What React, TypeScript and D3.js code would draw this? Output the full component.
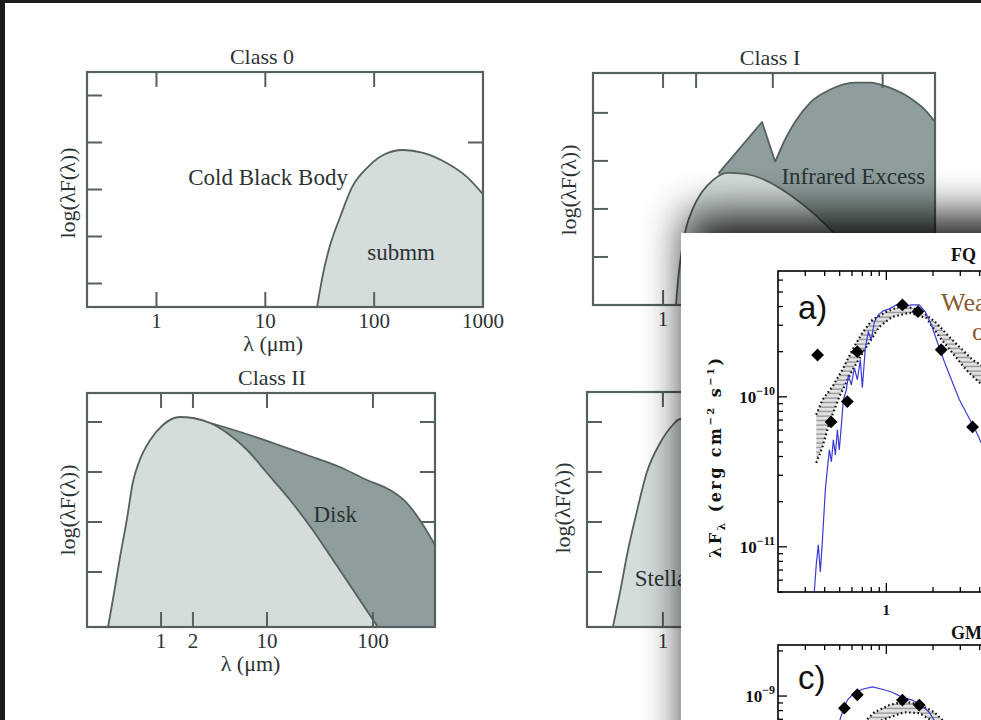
import React from "react";
import * as d3 from "d3";

type Pt = [number, number];

// ---- schematic SED classes: [wavelength (μm), log(λF) in arbitrary units] ----
const class0Cold: Pt[] = [
  [29.9, 0], [34, 0.72], [39, 1.28], [48.6, 1.91], [62.7, 2.55], [86, 2.96],
  [120, 3.23], [184, 3.34], [282, 3.28], [468, 3.06], [711, 2.77], [1000, 2.4],
];

const class1Star: Pt[] = [
  [1.31, 0], [1.37, 0.52], [1.46, 1.04], [1.62, 1.6], [1.88, 2.02], [2.26, 2.35],
  [2.85, 2.6], [3.83, 2.75], [5.58, 2.73], [8.5, 2.6], [14.4, 2.29], [24.2, 1.88],
  [41, 1.35], [62, 0.83], [91, 0.31], [105, 0],
];
const class1Silicate: Pt[] = [[3.2, 2.74], [7.97, 3.81], [10.5, 2.98]];
const class1Dust: Pt[] = [
  [10.5, 2.98], [12.9, 3.44], [15.9, 3.81], [21.8, 4.21], [33, 4.48], [56, 4.63],
  [77, 4.63], [117, 4.52], [178, 4.31], [243, 4.06], [300, 3.81],
];

const class2Star: Pt[] = [
  [0.316, -0.1], [0.36, 0.58], [0.41, 1.3], [0.48, 2.1], [0.54, 2.78], [0.63, 3.24],
  [0.79, 3.64], [1.04, 3.94], [1.51, 4.1], [2.0, 4.08], [2.9, 3.98], [4.2, 3.78],
  [6.5, 3.44], [10, 2.98], [16.5, 2.44], [27, 1.84], [42, 1.24], [65, 0.64], [111, -0.1],
];
const class2Disk: Pt[] = [
  [2.0, 4.08], [3.4, 3.94], [5.6, 3.8], [11.4, 3.58], [23.8, 3.34], [48.8, 3.1],
  [87.7, 2.84], [144.5, 2.64], [209, 2.38], [277, 2.04], [385, 1.54],
];

const class3Star: Pt[] = [
  [0.335, -0.1], [0.39, 0.58], [0.46, 1.38], [0.57, 2.24], [0.7, 2.98], [0.94, 3.58],
  [1.24, 3.94], [1.45, 4.06], [2.0, 4.08], [2.9, 3.98], [4.2, 3.78], [6.5, 3.44],
  [10, 2.98], [16.5, 2.44], [27, 1.84], [42, 1.24], [65, 0.64], [111, -0.1],
];

const class0XLabels = [1, 10, 100, 1000];
const class1XLabels = [1, 2, 10, 100];
const class2XLabels = [1, 2, 10, 100];
const class3XLabels = [1];

// ---- observed SEDs: [wavelength (μm), λFλ (erg cm^-2 s^-1)] ----
const fqPhot: Pt[] = [
  [0.36, 1.9e-10], [0.44, 6.8e-11], [0.56, 9.3e-11], [0.65, 2.0e-10],
  [1.27, 4.1e-10], [1.6, 3.7e-10], [2.26, 2.06e-10], [3.6, 6.3e-11],
];
const fqModel: Pt[] = [
  [0.343, 5.0e-12], [0.353, 7.6e-12], [0.364, 1.03e-11], [0.375, 6.8e-12], [0.387, 1.11e-11],
  [0.404, 2.4e-11], [0.416, 3.26e-11], [0.429, 4.43e-11], [0.442, 3.69e-11], [0.455, 5.17e-11],
  [0.469, 4.1e-11], [0.483, 6.03e-11], [0.497, 4.43e-11], [0.513, 6.5e-11], [0.528, 9.55e-11],
  [0.552, 1.11e-10], [0.569, 1.4e-10], [0.594, 1.2e-10], [0.622, 1.56e-10], [0.65, 1.3e-10],
  [0.68, 1.77e-10], [0.7, 1.15e-10], [0.732, 2.12e-10], [0.765, 2.71e-10], [0.8, 2.4e-10],
  [0.837, 3.16e-10], [0.888, 3.52e-10], [0.956, 3.74e-10], [1.046, 3.86e-10], [1.16, 4.1e-10],
  [1.306, 3.98e-10], [1.45, 4.1e-10], [1.63, 4.1e-10], [1.785, 3.69e-10], [1.95, 3.02e-10],
  [2.13, 2.33e-10], [2.37, 1.71e-10], [2.63, 1.3e-10], [2.96, 9.55e-11], [3.33, 7.59e-11],
  [3.75, 6.03e-11], [4.29, 4.43e-11],
];
const fqGridTop: Pt[] = [
  [0.353, 7.6e-11], [0.387, 9.55e-11], [0.449, 1.17e-10], [0.52, 1.51e-10], [0.604, 2.06e-10],
  [0.7, 2.67e-10], [0.812, 3.26e-10], [1.0, 3.69e-10], [1.21, 3.98e-10], [1.47, 3.92e-10],
  [1.81, 3.52e-10], [2.1, 3.11e-10], [2.55, 2.51e-10], [3.09, 2.06e-10], [3.59, 1.77e-10],
  [4.29, 1.58e-10],
];
const fqGridBottom: Pt[] = [
  [0.353, 3.63e-11], [0.387, 4.64e-11], [0.429, 6.7e-11], [0.497, 1.0e-10], [0.604, 1.51e-10],
  [0.743, 2.15e-10], [0.901, 2.93e-10], [1.09, 3.41e-10], [1.41, 3.63e-10], [1.81, 3.36e-10],
  [2.2, 2.51e-10], [2.67, 1.96e-10], [3.28, 1.51e-10], [3.81, 1.3e-10], [4.29, 1.17e-10],
];
const fqYLabels = [1e-10, 1e-11];
const fqXLabels = [1];

const gmPhot: Pt[] = [[0.536, 8.3e-10], [0.65, 1.02e-9], [1.27, 9.4e-10], [1.63, 8.7e-10]];
const gmModel: Pt[] = [
  [0.497, 6.7e-10], [0.52, 7.8e-10], [0.56, 9.4e-10], [0.622, 1.05e-9], [0.7, 1.11e-9],
  [0.812, 1.15e-9], [0.942, 1.11e-9], [1.09, 1.06e-9], [1.27, 9.8e-10], [1.47, 9.4e-10],
  [1.68, 8.7e-10], [1.89, 7.8e-10], [2.07, 6.7e-10],
];
const gmGridTop: Pt[] = [
  [0.721, 6.7e-10], [0.837, 7.8e-10], [1.046, 8.7e-10], [1.306, 9.2e-10], [1.63, 8.8e-10],
  [2.04, 7.8e-10], [2.37, 6.7e-10],
];
const gmGridBottom: Pt[] = [
  [0.777, 6.4e-10], [1.046, 7.2e-10], [1.306, 7.8e-10], [1.63, 7.7e-10], [2.2, 6.4e-10],
];
const gmYLabels = [1e-9];

const SERIF = "'Liberation Serif', 'DejaVu Serif', serif";
const SANS = "'Liberation Sans', Arial, sans-serif";
const INK = "#56605f";
const LIGHT = "#d4dcdc";
const DARK = "#8e9e9d";
const TXT = "#2c3333";

type Part = { data: Pt[]; curve: d3.CurveFactory };
type Layer = { parts: Part[]; fill: string };
type Note = { text: string; at: Pt; anchor: "start" | "middle" | "end" };

interface ClassProps {
  id: string;
  left: number;
  top: number;
  width: number;
  height: number;
  xDomain: [number, number];
  yDomain: [number, number];
  layers: Layer[];
  notes: Note[];
  leftTicks: number[];
  rightTicks: number[];
  topTicks: number[];
  bottomTicks: number[];
  xLabels: number[];
  title?: string;
  titleX: number;
  xTitle: boolean;
  yTitleX: number;
  yTitleY: number;
}

function ClassPanel(p: ClassProps) {
  const x = d3.scaleLog().domain(p.xDomain).range([p.left, p.left + p.width]);
  const y = d3.scaleLinear().domain(p.yDomain).range([p.top + p.height, p.top]);
  const base = y(p.yDomain[0]);
  const bottom = p.top + p.height;
  const right = p.left + p.width;
  const tl = 15;
  return (
    <g>
      <defs>
        <clipPath id={p.id}>
          <rect x={p.left} y={p.top} width={p.width} height={p.height} />
        </clipPath>
      </defs>
      <g clipPath={`url(#${p.id})`}>
        {p.layers.map((l, i) => {
          const fill = l.parts
            .map((s) => d3.area<Pt>().x((d) => x(d[0])).y0(base).y1((d) => y(d[1])).curve(s.curve)(s.data))
            .join(" ");
          const edge = l.parts
            .map((s) => d3.line<Pt>().x((d) => x(d[0])).y((d) => y(d[1])).curve(s.curve)(s.data))
            .join(" ");
          return (
            <g key={i}>
              <path d={fill} fill={l.fill} />
              <path d={edge} fill="none" stroke={INK} strokeWidth={1.8} strokeLinejoin="round" />
            </g>
          );
        })}
      </g>
      <g stroke={INK} strokeWidth={2}>
        {p.leftTicks.map((v) => (
          <line key={"l" + v} x1={p.left} x2={p.left + tl} y1={y(v)} y2={y(v)} />
        ))}
        {p.rightTicks.map((v) => (
          <line key={"r" + v} x1={right - tl} x2={right} y1={y(v)} y2={y(v)} />
        ))}
        {p.topTicks.map((v) => (
          <line key={"t" + v} x1={x(v)} x2={x(v)} y1={p.top} y2={p.top + tl} />
        ))}
        {p.bottomTicks.map((v) => (
          <line key={"b" + v} x1={x(v)} x2={x(v)} y1={bottom - tl} y2={bottom} />
        ))}
      </g>
      <rect x={p.left} y={p.top} width={p.width} height={p.height} fill="none" stroke={INK} strokeWidth={2.2} />
      <g fontFamily={SERIF} fill={TXT}>
        {p.xLabels.map((v) => (
          <text key={"xl" + v} x={x(v)} y={bottom + 21} fontSize={21} textAnchor="middle">
            {v}
          </text>
        ))}
        {p.xTitle && (
          <text x={p.left + p.width * 0.47} y={bottom + 44} fontSize={22} textAnchor="middle">
            λ (μm)
          </text>
        )}
        {p.title && (
          <text x={p.titleX} y={p.top - 8} fontSize={22} textAnchor="middle">
            {p.title}
          </text>
        )}
        <text
          transform={`translate(${p.yTitleX},${p.yTitleY}) rotate(-90)`}
          fontSize={22}
          textAnchor="middle"
          dominantBaseline="central"
        >
          log(λF(λ))
        </text>
        {p.notes.map((n) => (
          <text key={n.text} x={x(n.at[0])} y={y(n.at[1])} fontSize={23} textAnchor={n.anchor}>
            {n.text}
          </text>
        ))}
      </g>
    </g>
  );
}

interface FluxProps {
  id: string;
  top: number;
  height: number;
  yDomain: [number, number];
  phot: Pt[];
  model: Pt[];
  gridTop: Pt[];
  gridBottom: Pt[];
  yLabels: number[];
  xLabels: number[];
  tag: string;
  tagY: number;
  name: string;
  nameY: number;
}

const cardX = d3.scaleLog().domain([0.2, 20]).range([778, 1088]);
const sup = (v: number) => String(Math.round(Math.log10(v))).replace("-", "\u2212");

function FluxPanel(p: FluxProps) {
  const x = cardX;
  const y = d3.scaleLog().domain(p.yDomain).range([p.top + p.height, p.top]);
  const left = 778;
  const bottom = p.top + p.height;
  const isMajor = (v: number) => Math.abs(Math.log10(v) - Math.round(Math.log10(v))) < 1e-6;
  const line = d3.line<Pt>().x((d) => x(d[0])).y((d) => y(d[1]));
  const band = line(p.gridTop.concat(p.gridBottom.slice().reverse())) + "Z";
  const diamond = d3.symbol().type(d3.symbolSquare).size(82)() || "";
  const xt = x.ticks().filter((v) => v > 0.2);
  const yt = y.ticks();
  return (
    <g>
      <defs>
        <clipPath id={p.id}>
          <rect x={left} y={p.top} width={400} height={p.height} />
        </clipPath>
      </defs>
      <g clipPath={`url(#${p.id})`}>
        <path d={band} fill="url(#hatch)" stroke="none" />
        <path d={line(p.gridTop) || ""} fill="none" stroke="#111" strokeWidth={2.2} strokeDasharray="1.6 2.6" />
        <path d={line(p.gridBottom) || ""} fill="none" stroke="#111" strokeWidth={2.2} strokeDasharray="1.6 2.6" />
        <path d={line(p.model) || ""} fill="none" stroke="#3a3ad6" strokeWidth={1.2} />
        {p.phot.map((d, i) => (
          <path key={i} d={diamond} transform={`translate(${x(d[0])},${y(d[1])}) rotate(45)`} fill="#000" />
        ))}
      </g>
      <g stroke="#000" strokeWidth={1.3}>
        {yt.map((v, i) => (
          <line key={"y" + i} x1={left} x2={left + (isMajor(v) ? 9 : 5)} y1={y(v)} y2={y(v)} />
        ))}
        {xt.map((v, i) => (
          <line key={"t" + i} x1={x(v)} x2={x(v)} y1={p.top} y2={p.top + (isMajor(v) ? 9 : 5)} />
        ))}
        {xt.map((v, i) => (
          <line key={"b" + i} x1={x(v)} x2={x(v)} y1={bottom} y2={bottom - (isMajor(v) ? 9 : 5)} />
        ))}
      </g>
      <rect x={left} y={p.top} width={400} height={p.height} fill="none" stroke="#000" strokeWidth={1.6} />
      <g fontFamily={SERIF} fontWeight="bold" fill="#111">
        {p.yLabels.map((v) => (
          <text key={v} x={775} y={y(v) + 6} textAnchor="end" fontSize={17}>
            10<tspan fontSize={12} dy={-8}>{sup(v)}</tspan>
          </text>
        ))}
        {p.xLabels.map((v) => (
          <text key={"x" + v} x={x(v)} y={bottom + 23} textAnchor="middle" fontSize={15}>
            {v}
          </text>
        ))}
        <text x={951} y={p.nameY} fontSize={18}>
          {p.name}
        </text>
      </g>
      <text x={798} y={p.tagY} fontFamily={SANS} fontSize={33} fill="#111">
        {p.tag}
      </text>
    </g>
  );
}

export default function App() {
  return (
    <svg
      width={981}
      height={720}
      viewBox="0 0 981 720"
      style={{ position: "absolute", left: 0, top: 0, display: "block" }}
    >
      <defs>
        <pattern id="hatch" patternUnits="userSpaceOnUse" width={4} height={4.5}>
          <rect width={4} height={4.5} fill="#e2e2e2" />
          <line x1={0} y1={2} x2={4} y2={2} stroke="#666" strokeWidth={0.9} />
        </pattern>
        <filter id="cardShadow" x="-50%" y="-50%" width="200%" height="200%">
          <feGaussianBlur stdDeviation={22} />
        </filter>
      </defs>
      <rect width={981} height={720} fill="#fff" />

      <ClassPanel
        id="c0"
        left={87}
        top={72}
        width={396}
        height={235}
        xDomain={[0.23, 1000]}
        yDomain={[0, 5]}
        layers={[{ parts: [{ data: class0Cold, curve: d3.curveMonotoneX }], fill: LIGHT }]}
        notes={[
          { text: "Cold Black Body", at: [10.6, 2.6], anchor: "middle" },
          { text: "submm", at: [177, 1.0], anchor: "middle" },
        ]}
        leftTicks={[0.5, 1.5, 2.5, 3.5, 4.5]}
        rightTicks={[3.5]}
        topTicks={[1, 10, 100]}
        bottomTicks={[1, 10, 100]}
        xLabels={class0XLabels}
        title="Class 0"
        titleX={262}
        xTitle={true}
        yTitleX={67}
        yTitleY={193}
      />
      <ClassPanel
        id="c1"
        left={593}
        top={73}
        width={342}
        height={232}
        xDomain={[0.23, 300]}
        yDomain={[0, 4.83]}
        layers={[
          {
            parts: [
              { data: class1Silicate, curve: d3.curveLinear },
              { data: class1Dust, curve: d3.curveMonotoneX },
            ],
            fill: DARK,
          },
          { parts: [{ data: class1Star, curve: d3.curveMonotoneX }], fill: LIGHT },
        ]}
        notes={[{ text: "Infrared Excess", at: [54, 2.52], anchor: "middle" }]}
        leftTicks={[1, 2, 3, 4]}
        rightTicks={[]}
        topTicks={[1, 2, 10, 100]}
        bottomTicks={[1, 2, 10, 100]}
        xLabels={class1XLabels}
        title="Class I"
        titleX={770}
        xTitle={false}
        yTitleX={568}
        yTitleY={190}
      />
      <ClassPanel
        id="c2"
        left={87}
        top={393}
        width={348}
        height={234}
        xDomain={[0.2, 385]}
        yDomain={[-0.1, 4.58]}
        layers={[
          { parts: [{ data: class2Disk, curve: d3.curveMonotoneX }], fill: DARK },
          { parts: [{ data: class2Star, curve: d3.curveMonotoneX }], fill: LIGHT },
        ]}
        notes={[{ text: "Disk", at: [44, 2.0], anchor: "middle" }]}
        leftTicks={[1, 2, 3, 4]}
        rightTicks={[2, 3, 4]}
        topTicks={[1, 2, 10, 100]}
        bottomTicks={[1, 2, 10, 100]}
        xLabels={class2XLabels}
        title="Class II"
        titleX={272}
        xTitle={true}
        yTitleX={67}
        yTitleY={510}
      />
      <ClassPanel
        id="c3"
        left={587}
        top={392}
        width={348}
        height={235}
        xDomain={[0.19, 385]}
        yDomain={[-0.1, 4.6]}
        layers={[{ parts: [{ data: class3Star, curve: d3.curveMonotoneX }], fill: LIGHT }]}
        notes={[{ text: "Stellar", at: [0.54, 0.72], anchor: "start" }]}
        leftTicks={[1, 2, 3, 4]}
        rightTicks={[]}
        topTicks={[1, 2, 10, 100]}
        bottomTicks={[1, 2, 10, 100]}
        xLabels={class3XLabels}
        titleX={770}
        xTitle={false}
        yTitleX={562}
        yTitleY={508}
      />

      {/* overlaid figure card with its drop shadow */}
      <rect x={686} y={215} width={400} height={600} fill="#000" opacity={0.9} filter="url(#cardShadow)" />
      <rect x={681} y={233} width={320} height={500} fill="#fff" />

      <FluxPanel
        id="fa"
        top={271}
        height={321}
        yDomain={[5e-12, 6.9e-10]}
        phot={fqPhot}
        model={fqModel}
        gridTop={fqGridTop}
        gridBottom={fqGridBottom}
        yLabels={fqYLabels}
        xLabels={fqXLabels}
        tag="a)"
        tagY={319}
        name="FQ"
        nameY={261}
      />
      <FluxPanel
        id="fc"
        top={645}
        height={201}
        yDomain={[1e-10, 2.19e-9]}
        phot={gmPhot}
        model={gmModel}
        gridTop={gmGridTop}
        gridBottom={gmGridBottom}
        yLabels={gmYLabels}
        xLabels={[]}
        tag="c)"
        tagY={689}
        name="GM"
        nameY={639}
      />
      <g fontFamily={SERIF} fontSize={26} fill="#8a5a32">
        <text x={941} y={311}>Wea</text>
        <text x={972} y={340}>o</text>
      </g>
      <text
        transform="translate(721,458) rotate(-90)"
        textAnchor="middle"
        fontFamily="'DejaVu Serif', serif"
        fontWeight="bold"
        fontSize={16}
        fill="#111"
        textLength={200}
        lengthAdjust="spacing"
      >
        λF<tspan fontSize={11} dy={4}>λ</tspan>
        <tspan dy={-4}> (erg cm</tspan>
        <tspan fontSize={10} dy={-7}>−2</tspan>
        <tspan dy={7}> s</tspan>
        <tspan fontSize={10} dy={-7}>−1</tspan>
        <tspan dy={7}>)</tspan>
      </text>

      {/* screen frame */}
      <rect x={0} y={0} width={981} height={3} fill="#1c1c1c" />
      <rect x={0} y={0} width={5} height={720} fill="#1c1c1c" />
    </svg>
  );
}
